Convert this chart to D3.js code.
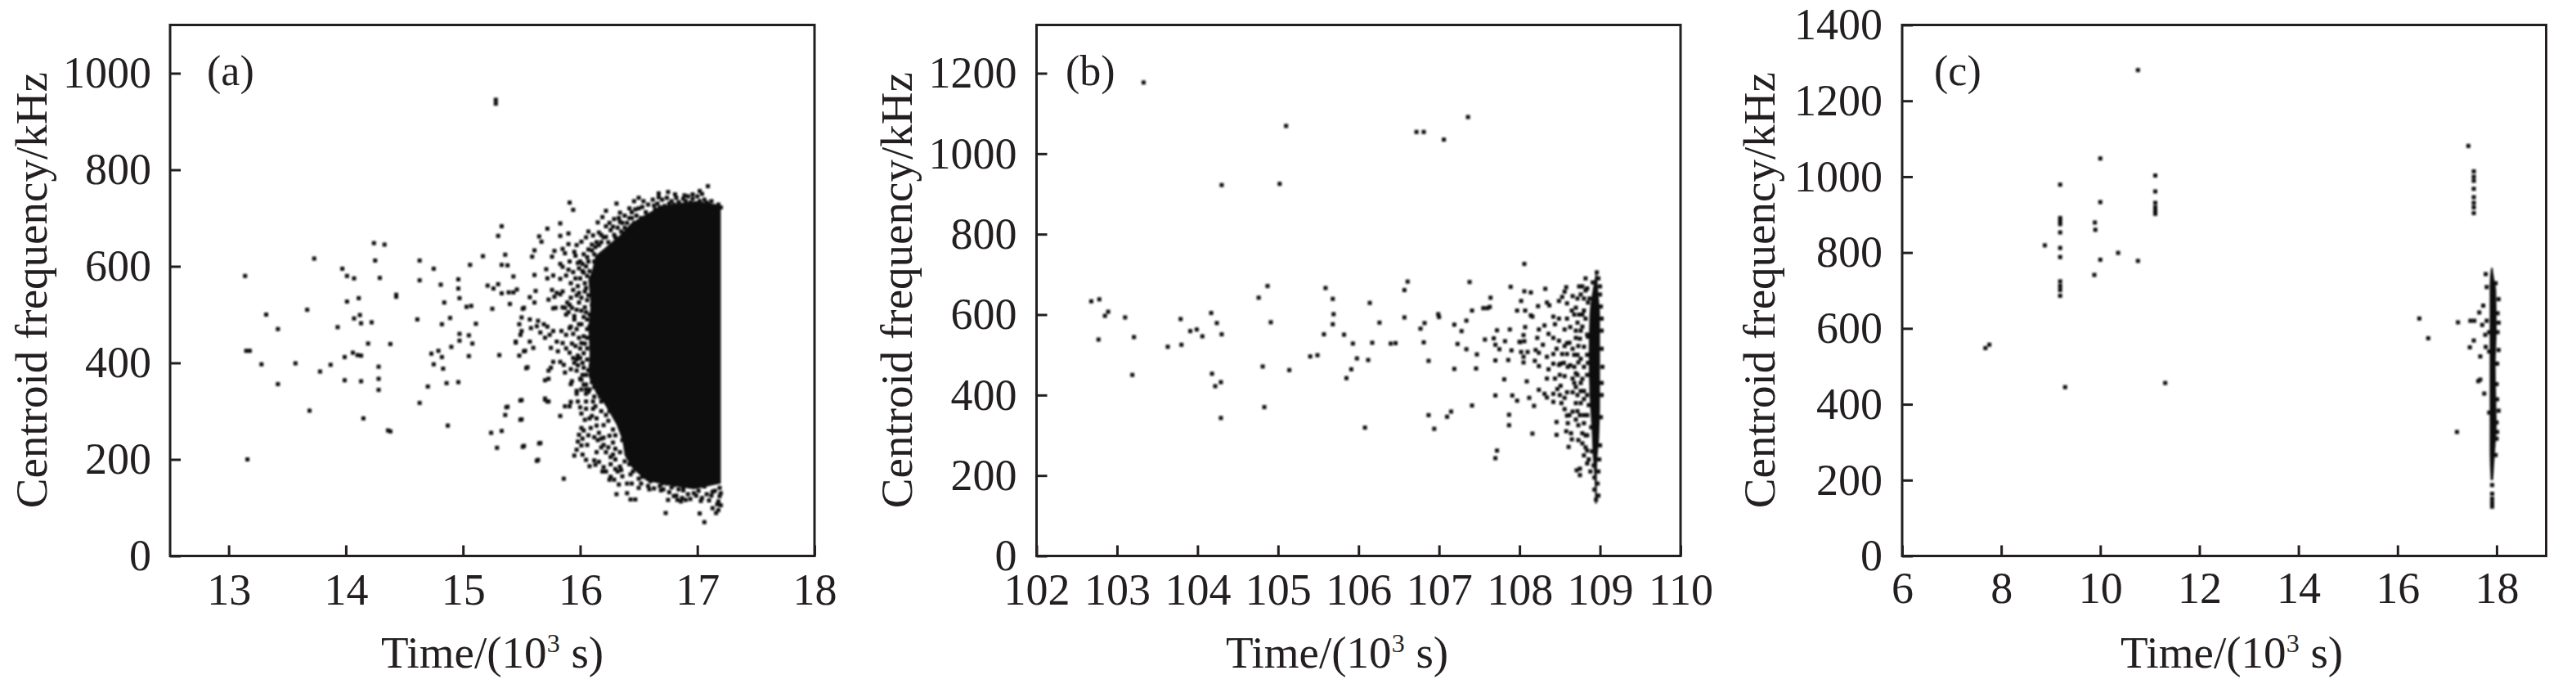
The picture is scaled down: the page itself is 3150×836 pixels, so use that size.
<!DOCTYPE html>
<html><head><meta charset="utf-8">
<script src="https://cdn.jsdelivr.net/npm/d3@7/dist/d3.min.js"></script>
<style>html,body{margin:0;padding:0;background:#fff}svg{display:block}
text{font-family:"Liberation Serif","Times New Roman",serif;fill:#231f20}</style></head>
<body><svg id="c" width="3150" height="836"></svg>
<script>
const pointsA=[[13.14,580],[13.16,200],[13.15,425],[13.18,425],[13.28,397],[13.32,500],[13.42,470],[13.42,356],[13.57,399],[13.67,510],[13.69,301],[13.73,616],[13.78,382],[13.87,396],[13.93,474],[13.97,595],[13.99,412],[13.99,364],[14.01,580],[14.01,527],[14.07,575],[14.06,421],[14.07,492],[14.11,534],[14.12,499],[14.13,482],[14.10,416],[14.13,415],[14.13,362],[14.15,285],[14.19,440],[14.22,484],[14.24,648],[14.25,612],[14.33,645],[14.29,576],[14.28,392],[14.28,367],[14.28,344],[14.36,260],[14.38,258],[14.38,439],[14.43,537],[14.43,541],[14.61,490],[14.63,612],[14.63,571],[14.63,317],[14.70,351],[14.73,419],[14.75,595],[14.75,397],[14.79,425],[14.81,562],[14.82,480],[14.82,412],[14.83,388],[14.84,525],[14.86,358],[14.87,270],[14.89,493],[14.90,433],[14.96,573],[14.96,554],[14.97,534],[14.97,460],[14.97,446],[15.05,457],[15.08,440],[15.05,414],[14.96,360],[15.03,516],[15.07,518],[15.06,603],[15.11,481],[15.17,621],[15.21,560],[15.24,255],[15.25,512],[15.26,554],[15.30,563],[15.29,224],[15.30,663],[15.33,683],[15.28,945],[15.28,937],[15.31,416],[15.33,259],[15.33,603],[15.38,602],[15.36,624],[15.33,544],[15.39,546],[15.43,546],[15.40,522],[15.43,579],[15.36,292],[15.37,308],[15.46,552],[15.45,442],[15.51,512],[15.49,322],[15.49,282],[15.51,226],[15.54,389],[15.52,424],[15.48,415],[15.65,233],[15.63,197],[15.70,324],[15.72,320],[15.86,160],[15.91,732],[15.94,717]];
const edgeA=[[17.09,766],[16.75,754],[16.67,751],[16.67,743],[16.81,749],[16.89,747],[16.96,749],[17.02,756],[16.50,742],[16.46,735],[16.42,720],[16.31,730],[16.22,715],[16.19,702],[16.15,691],[16.22,683],[16.29,698],[16.34,711],[16.53,723],[16.63,726],[16.07,672],[16.11,664],[16.16,670],[16.22,661],[15.83,689],[15.72,678],[15.65,662],[15.67,651],[15.90,668],[15.83,663],[15.90,646],[16.01,651],[15.97,644],[15.95,630],[15.96,622],[15.61,633],[15.59,620],[15.78,632],[15.76,620],[15.85,636],[15.87,627],[15.71,594],[15.61,582],[15.72,575],[15.77,581],[15.83,574],[15.83,605],[15.85,599],[15.91,610],[15.90,593],[15.88,581],[15.98,607],[16.06,619],[16.10,633],[16.16,644],[16.03,587],[15.99,596],[15.94,588],[15.62,549],[15.57,536],[15.61,525],[15.52,514],[15.73,531],[15.76,551],[15.80,545],[15.85,548],[15.78,537],[15.83,542],[15.77,513],[15.79,514],[15.87,514],[15.91,520],[15.90,505],[15.94,551],[15.98,559],[15.92,565],[16.04,565],[16.04,548],[15.99,525],[16.01,508],[15.93,514],[15.95,497],[15.50,494],[15.57,490],[15.58,472],[15.57,444],[15.60,431],[15.53,425],[15.45,444],[15.49,458],[15.50,466],[15.48,480],[15.64,487],[15.63,476],[15.66,463],[15.70,452],[15.74,458],[15.77,466],[15.72,475],[15.69,480],[15.75,431],[15.81,424],[15.85,441],[15.84,466],[15.91,421],[15.80,444],[15.88,458],[15.91,472],[15.99,452],[15.96,435],[16.01,441],[16.06,452],[16.01,480],[16.08,475],[15.55,391],[15.77,402],[15.83,402],[15.86,396],[15.75,390],[15.73,384],[15.87,380],[15.92,387],[15.97,384],[16.03,390],[15.97,407],[16.06,407],[16.09,393],[15.70,364],[15.73,367],[15.92,356],[15.93,362],[16.00,367],[15.97,342],[16.05,345],[16.01,345],[15.97,336],[16.05,336],[15.70,326],[15.73,320],[15.50,323],[15.38,309],[15.50,283],[15.83,290],[15.87,310],[15.91,310],[15.92,319],[15.98,320],[16.05,320],[16.11,320],[16.00,308],[16.01,295],[16.04,282],[16.11,305],[16.14,285],[16.20,271],[15.52,228],[15.66,234],[15.64,199],[16.01,265],[16.03,260],[15.99,251],[16.02,243],[15.98,237],[16.12,246],[16.18,243],[16.25,249],[15.97,220],[15.95,208],[16.01,229],[16.06,230],[16.02,210],[16.05,199],[16.12,198],[16.16,195],[16.08,186],[16.13,189],[16.20,184],[16.22,175],[16.19,175],[16.26,164],[16.25,158],[16.29,158],[16.33,148],[16.31,128],[16.43,117],[16.47,117],[16.32,175],[16.35,178],[16.43,169],[16.44,150],[16.50,141],[16.59,138],[16.69,136],[16.75,116],[16.83,116],[16.86,113],[16.90,116],[16.73,89],[17.03,114],[17.17,107],[17.13,99],[17.16,89],[17.02,88],[17.06,70],[17.19,124],[17.19,141],[17.18,113],[16.80,124],[16.88,136],[16.97,130],[17.06,144],[17.13,133],[16.62,161],[16.53,164],[16.73,153],[16.80,147],[16.88,144],[16.38,196],[16.42,206],[16.30,222],[16.36,240],[16.28,262],[16.22,292],[16.17,330],[16.12,350],[16.26,205],[16.52,180],[16.70,150],[16.58,700],[16.38,680],[16.44,700],[16.30,660],[16.26,640],[16.12,610],[16.09,575],[16.07,540],[16.10,520],[16.08,500]];
const topFringeA=[[16.33,700],[16.36,690],[16.38,705],[16.40,690],[16.42,700],[16.44,712],[16.46,690],[16.48,705],[16.50,720],[16.52,700],[16.54,735],[16.56,712],[16.58,728],[16.60,705],[16.62,738],[16.64,718],[16.66,730],[16.68,722],[16.70,738],[16.72,725],[16.74,742],[16.76,730],[16.78,735],[16.80,728],[16.82,742],[16.84,733],[16.86,728],[16.88,740],[16.90,735],[16.92,745],[16.94,732],[16.96,740],[16.98,730],[17.00,745],[17.02,735],[17.04,750],[17.06,738],[17.08,732],[17.10,728],[17.12,735],[17.14,725],[17.16,722],[17.18,728],[17.20,722],[16.26,675],[16.29,665],[16.32,680],[16.35,672],[16.25,690],[16.20,660],[16.18,650],[16.13,640],[16.10,645],[16.24,650],[16.28,682],[16.40,675],[16.34,692],[16.47,718]];
const bottomFringeA=[[16.42,190],[16.45,175],[16.48,185],[16.50,160],[16.52,150],[16.55,170],[16.58,145],[16.60,155],[16.63,140],[16.66,160],[16.68,145],[16.71,138],[16.74,150],[16.76,132],[16.78,142],[16.82,125],[16.84,138],[16.87,120],[16.92,128],[16.94,118],[16.99,125],[17.01,135],[17.04,120],[17.08,128],[17.10,115],[17.12,125],[17.15,135],[17.20,105],[17.18,95],[17.20,130],[16.40,130],[16.10,290],[16.14,270],[16.16,255],[16.20,245],[16.24,225],[16.28,235],[16.22,215],[16.18,225],[16.26,190],[16.30,200],[16.34,185],[16.36,165],[16.40,150],[16.30,180],[16.14,215],[16.09,265],[16.07,250],[16.13,310],[16.18,300],[16.24,280],[16.30,250],[16.32,280],[16.34,215],[16.12,330],[16.18,320],[16.07,340],[16.10,360],[16.03,355],[16.05,375],[16.08,345],[16.25,300],[16.20,230],[16.28,210],[16.15,240],[16.05,305],[16.08,285]];
const leftFringeA=[[15.95,400],[16.00,410],[16.03,420],[16.06,430],[16.00,430],[15.93,440],[15.97,470],[16.03,455],[16.06,470],[15.95,490],[16.03,495],[16.06,490],[16.04,515],[16.06,530],[16.01,535],[15.97,540],[16.02,590],[16.05,600],[16.08,590],[16.00,610],[16.03,625],[16.07,635],[16.12,625],[16.14,650],[16.18,665],[16.05,660],[15.92,535],[15.89,525],[15.88,500],[15.85,515],[15.92,475],[15.88,430],[15.94,410],[15.98,395],[16.02,375],[16.05,355],[15.98,415],[16.04,440],[15.94,460],[15.99,480],[16.05,505],[15.97,510],[15.99,545],[16.05,555],[16.00,575],[16.06,580],[15.96,575],[16.02,605],[16.07,610],[16.02,400],[16.07,385],[16.01,365]];
const coreOutlineA=[[17.2,726],[17.0,735],[16.69,725],[16.52,702],[16.43,688],[16.34,665],[16.22,640],[16.13,622],[16.10,590],[16.07,571],[16.09,520],[16.07,475],[16.08,418],[16.07,373],[16.14,335],[16.20,318],[16.31,272],[16.36,240],[16.38,208],[16.45,180],[16.57,155],[16.80,145],[16.97,138],[17.2,150]];

const pointsB=[[102.68,633],[102.78,638],[102.85,597],[102.89,607],[102.77,538],[103.10,593],[103.21,544],[103.19,450],[103.33,1177],[103.63,520],[103.80,525],[103.79,589],[103.91,559],[103.99,563],[104.06,546],[104.17,604],[104.24,579],[104.30,551],[104.18,453],[104.22,422],[104.29,432],[104.29,343],[104.30,922],[104.76,642],[104.87,671],[104.81,471],[104.83,370],[104.91,581],[105.02,925],[105.10,1069],[105.14,462],[105.40,496],[105.49,499],[105.57,551],[105.59,666],[105.68,639],[105.69,601],[105.68,576],[105.82,550],[105.85,442],[105.91,464],[105.93,528],[105.98,491],[106.08,319],[106.12,487],[106.14,629],[106.17,530],[106.26,580],[106.40,528],[106.46,529],[106.57,661],[106.57,593],[106.61,682],[106.72,1054],[106.81,1054],[106.77,565],[106.82,579],[106.81,531],[106.87,485],[106.87,350],[106.94,316],[106.99,601],[107.00,594],[107.06,1035],[107.10,346],[107.15,359],[107.19,575],[107.19,465],[107.28,559],[107.23,527],[107.34,585],[107.34,514],[107.36,1091],[107.38,681],[107.41,610],[107.41,374],[107.47,501],[107.46,466],[107.55,616],[107.60,616],[107.63,619],[107.64,642],[107.57,538],[107.68,541],[107.72,561],[107.70,525],[107.75,514],[107.70,486],[107.70,399],[107.72,262],[107.70,243],[107.82,534],[107.81,439],[107.87,351],[107.87,325],[107.89,669],[107.88,563],[107.90,511],[107.86,487],[107.91,399],[107.97,610],[108.07,610],[107.97,386],[108.02,634],[108.01,532],[108.06,658],[108.14,655],[108.06,726],[108.16,595],[108.23,621],[108.34,630],[108.37,623],[108.14,598],[108.32,664],[108.58,668],[108.56,657],[108.53,644],[108.49,634],[108.59,628],[108.66,646],[108.70,617],[108.42,595],[108.44,576],[108.31,573],[108.24,563],[108.22,542],[108.36,552],[108.49,590],[108.59,590],[108.07,569],[108.05,549],[108.00,532],[108.06,534],[108.10,507],[108.02,507],[108.05,495],[108.05,481],[108.20,512],[108.24,505],[108.19,485],[108.24,472],[108.34,495],[108.29,525],[108.42,542],[108.49,535],[108.59,529],[108.70,542],[108.42,478],[108.51,478],[108.36,464],[108.34,441],[108.44,441],[108.51,423],[108.56,447],[108.63,474],[108.66,441],[108.70,420],[108.59,407],[108.09,434],[108.24,413],[108.31,403],[108.34,394],[108.12,393],[108.18,373],[108.42,403],[108.42,383],[108.56,393],[108.56,365],[108.59,349],[108.66,359],[108.46,333],[108.46,301],[108.16,304],[108.61,271],[108.64,305],[108.73,325],[108.73,288],[108.78,305],[108.75,217],[108.75,201],[108.71,213],[108.70,339],[108.49,475],[108.59,502],[108.66,515],[108.73,522],[108.63,569],[108.56,563],[108.53,502],[108.42,502],[108.46,515],[108.73,481],[108.70,454],[108.66,407],[108.56,522],[108.76,560],[108.78,600],[108.80,640],[108.84,665],[108.82,690],[108.76,650],[108.74,600],[108.78,440],[108.76,380],[108.80,350],[108.82,300],[108.84,262],[108.86,240],[108.88,210],[109.02,560],[109.03,470],[109.02,400],[109.01,620],[109.00,670]];
const fringeB=[[108.68,600],[108.72,580],[108.78,570],[108.82,590],[108.70,560],[108.75,540],[108.80,520],[108.68,500],[108.72,500],[108.76,490],[108.80,470],[108.68,470],[108.72,450],[108.76,430],[108.80,410],[108.68,430],[108.72,400],[108.76,410],[108.80,390],[108.70,380],[108.75,350],[108.80,330],[108.72,360],[108.78,280],[108.82,270],[108.80,250],[108.84,230],[108.85,630],[108.82,660],[108.78,670],[108.74,670],[108.72,640],[108.80,610],[108.84,550],[108.84,500],[108.84,450],[108.84,400],[108.84,350],[108.84,300],[108.65,610],[108.62,530],[108.60,470],[108.55,480],[108.50,450],[108.47,415],[108.50,400],[108.52,380],[108.60,330],[108.58,310],[108.65,290],[108.62,350]];
const columnB=[[108.95,140],[108.98,150],[108.93,165],[108.97,180],[108.93,195],[108.98,210],[108.92,225],[108.99,240],[108.90,260],[109.00,275],[108.89,320],[109.01,345],[108.86,375],[109.02,430],[108.85,480],[109.02,515],[108.85,545],[109.02,590],[108.87,640],[109.00,650],[108.91,680],[108.98,690],[108.96,705]];
const bandFreqsB=[130,200,250,300,400,500,600,650,705];
const bandLeftB=[108.94,108.93,108.91,108.90,108.87,108.86,108.87,108.90,108.95];
const bandRightB=[108.96,108.96,108.97,108.99,109.00,109.00,109.00,108.98,108.96];

const pointsC=[[7.68,548],[7.76,557],[8.88,819],[9.19,979],[9.19,891],[9.19,883],[9.19,875],[9.19,853],[9.19,812],[9.19,788],[9.19,724],[9.19,712],[9.19,701],[9.19,686],[9.29,445],[9.89,879],[9.90,860],[9.88,741],[10.0,1048],[10.0,933],[10.0,781],[10.36,799],[10.76,1281],[10.76,778],[11.11,1003],[11.11,961],[11.11,931],[11.11,919],[11.11,910],[11.11,902],[11.31,456],[16.44,626],[16.62,574],[17.22,616],[17.20,327],[17.43,1081],[17.54,1014],[17.54,1000],[17.54,989],[17.54,968],[17.54,946],[17.54,931],[17.54,919],[17.54,904],[17.47,620],[17.55,620],[17.54,568],[17.46,550],[17.65,642],[17.73,660],[17.80,620],[17.71,609],[17.77,583],[17.78,551],[17.67,526],[17.67,465],[17.63,461],[17.75,428],[17.78,743],[17.80,709],[17.98,719],[18.04,677],[18.02,640],[18.04,615],[18.02,590],[18.04,543],[18.01,507],[18.00,453],[18.01,413],[18.04,383],[18.00,352],[18.01,327],[18.00,309],[17.98,266],[17.85,590],[17.85,539],[17.85,378],[17.91,187],[17.91,164],[17.91,151],[17.91,140],[17.91,130]];
const bandFreqsC=[200,280,340,500,600,700,740,760];
const bandLeftC=[17.88,17.86,17.86,17.86,17.86,17.86,17.87,17.89];
const bandRightC=[17.93,17.97,18.00,17.98,18.00,17.99,17.94,17.92];

const xTicksA=[13,14,15,16,17,18], yTicksA=[0,200,400,600,800,1000];
const xTicksB=[102,103,104,105,106,107,108,109,110], yTicksB=[0,200,400,600,800,1000,1200];
const xTicksC=[6,8,10,12,14,16,18], yTicksC=[0,200,400,600,800,1000,1200,1400];
const panelNames=["(a)","(b)","(c)"];
const yTitle="Centroid frequency/kHz";

const svg=d3.select("#c");
const defs=svg.append("defs");
defs.append("filter").attr("id","soft").attr("filterUnits","userSpaceOnUse").attr("x",0).attr("y",0).attr("width",3150).attr("height",836)
  .append("feGaussianBlur").attr("stdDeviation",0.85);
const ink="#231f20", dot="#0e0e0e", dotSize=5;
const plotTop=30.5,plotBottom=679.5;
function panel(o){
  const x=d3.scaleLinear().domain(o.xd).range([o.l,o.r]);
  const y=d3.scaleLinear().domain(o.yd).range([plotBottom,plotTop]);
  const marks=svg.append("g").attr("filter","url(#soft)");
  if(o.core){
    marks.append("path").attr("fill",dot).attr("d",d3.line().x(d=>x(d[0])).y(d=>y(d[1])).curve(d3.curveLinearClosed)(o.core));
  }
  if(o.band){
    marks.append("path").attr("fill",dot).attr("d",d3.area().curve(d3.curveMonotoneY)
      .y(d=>y(d)).x0((d,i)=>x(o.band[1][i])).x1((d,i)=>x(o.band[2][i]))(o.band[0]));
  }
  marks.selectAll("rect").data(o.pts).join("rect")
    .attr("x",d=>x(d[0])-dotSize/2).attr("y",d=>y(d[1])-dotSize/2).attr("width",dotSize).attr("height",dotSize).attr("fill",dot);
  svg.append("rect").attr("x",o.l).attr("y",plotTop).attr("width",o.r-o.l).attr("height",plotBottom-plotTop)
    .attr("fill","none").attr("stroke",ink).attr("stroke-width",3);
  const ax=svg.append("g").attr("transform",`translate(0,${plotBottom})`)
    .call(d3.axisBottom(x).tickValues(o.xt).tickSizeOuter(0).tickSizeInner(-13).tickPadding(o.xPad).tickFormat(d3.format("d")));
  const ay=svg.append("g").attr("transform",`translate(${o.l},0)`)
    .call(d3.axisLeft(y).tickValues(o.yt).tickSizeOuter(0).tickSizeInner(-13).tickPadding(o.yPad).tickFormat(d3.format("d")));
  [ax,ay].forEach(a=>{a.select(".domain").remove();
    a.selectAll("line").attr("stroke",ink).attr("stroke-width",3);
    a.selectAll("text").attr("font-size",54).attr("font-family","Liberation Serif").attr("fill",ink);});
  svg.append("text").attr("x",o.nx).attr("y",104).attr("font-size",52).text(o.name);
  svg.append("text").attr("transform",`translate(${o.yb},354.7) rotate(-90)`).attr("text-anchor","middle").attr("font-size",55).text(yTitle);
  const t=svg.append("text").attr("x",o.xc).attr("y",816).attr("text-anchor","middle").attr("font-size",55);
  t.append("tspan").text("Time/(10");
  t.append("tspan").attr("font-size",32).attr("dy",-19).text("3");
  t.append("tspan").attr("dy",19).text(" s)");
}
panel({name:panelNames[0],nx:253,l:208,r:996,xd:[12.5,18],yd:[0,1100],xt:xTicksA,yt:yTicksA,xPad:21,yPad:23,yb:57,xc:602,pts:pointsA.concat(edgeA,topFringeA,bottomFringeA,leftFringeA),core:coreOutlineA});
panel({name:panelNames[1],nx:1303,l:1267.5,r:2055,xd:[102,110],yd:[0,1320],xt:xTicksB,yt:yTicksB,xPad:21,yPad:24,yb:1115,xc:1635,pts:pointsB.concat(fringeB,columnB),band:[bandFreqsB,bandLeftB,bandRightB]});
panel({name:panelNames[2],nx:2365,l:2326,r:3113.5,xd:[6,19],yd:[0,1400],xt:xTicksC,yt:yTicksC,xPad:19,yPad:24,yb:2170,xc:2729,pts:pointsC,band:[bandFreqsC,bandLeftC,bandRightC]});
</script></body></html>
